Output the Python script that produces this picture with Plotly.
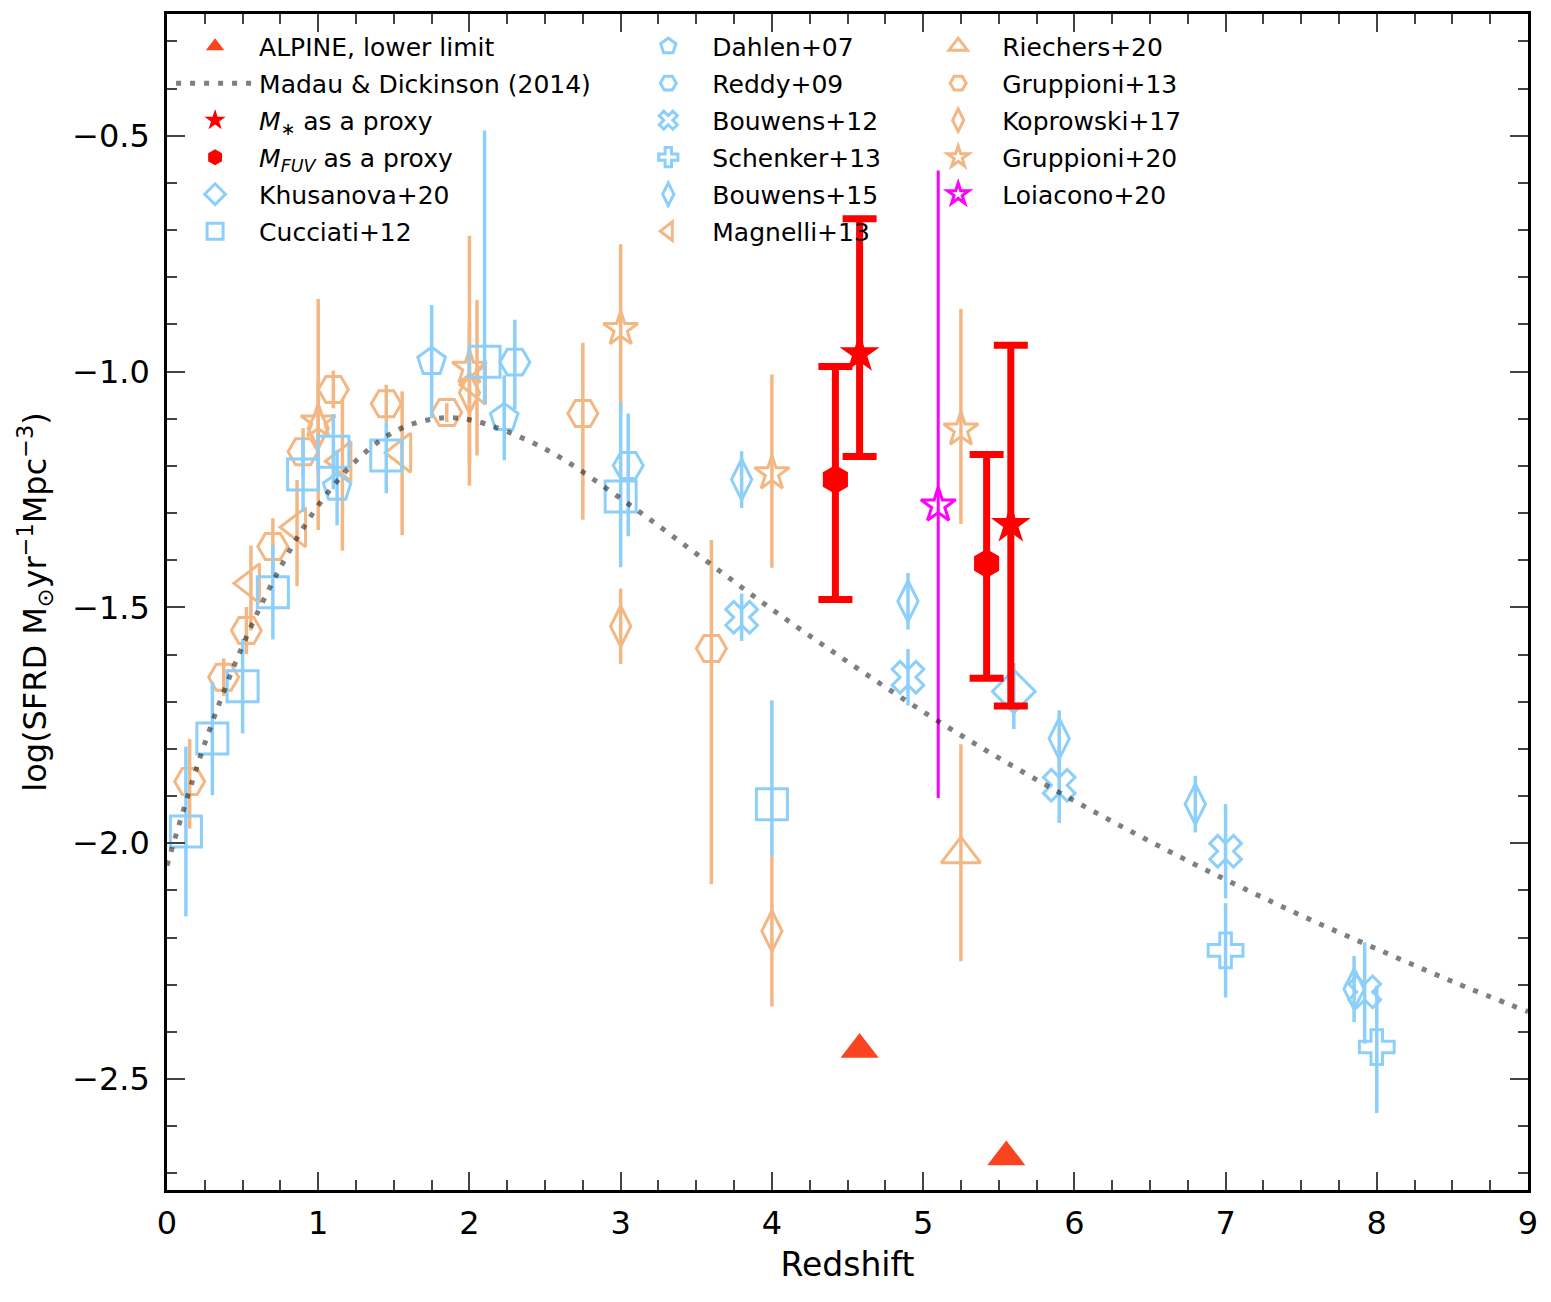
import plotly.graph_objects as go

# colours
BLUE = "#8CCFFA"
ORANGE = "#F3B784"
RED = "#FF0000"
MAGENTA = "#FF00FF"
ALPINE_COL = "#FA4420"

# --- ALPINE, this work ---
alpine_z = [4.58, 5.55]
alpine_y = [-2.437, -2.665]

mstar_z = [4.58, 5.58]
mstar_y = [-0.962, -1.324]
mstar_up = [0.286, 0.38]
mstar_dn = [0.218, 0.385]

mfuv_z = [4.42, 5.42]
mfuv_y = [-1.229, -1.407]
mfuv_up = [0.24, 0.231]
mfuv_dn = [0.254, 0.243]

# --- UV / optical literature (blue) ---
khus_z = [5.6]
khus_y = [-1.678]
khus_up = [0.06]
khus_dn = [0.08]

cucc_z = [0.125, 0.30, 0.50, 0.70, 0.90, 1.10, 1.45, 2.10, 3.00, 4.00]
cucc_y = [-1.975, -1.778, -1.667, -1.468, -1.218, -1.17, -1.178, -0.979, -1.265, -1.917]
cucc_up = [0.18, 0.12, 0.10, 0.10, 0.08, 0.08, 0.07, 0.49, 0.20, 0.22]
cucc_dn = [0.18, 0.12, 0.10, 0.10, 0.08, 0.08, 0.08, 0.09, 0.15, 0.11]

dahl_z = [1.125, 1.75, 2.23]
dahl_y = [-1.246, -0.979, -1.098]
dahl_up = [0.08, 0.12, 0.09]
dahl_dn = [0.08, 0.12, 0.09]

redd_z = [2.3, 3.05]
redd_y = [-0.98, -1.199]
redd_up = [0.09, 0.11]
redd_dn = [0.10, 0.15]

bouw12_z = [3.8, 4.9, 5.9, 7.0, 7.92]
bouw12_y = [-1.521, -1.648, -1.877, -2.017, -2.315]
bouw12_up = [0.05, 0.06, 0.08, 0.10, 0.105]
bouw12_dn = [0.05, 0.06, 0.08, 0.10, 0.11]

schen_z = [7.0, 8.0]
schen_y = [-2.227, -2.432]
schen_up = [0.10, 0.13]
schen_dn = [0.10, 0.14]

bouw15_z = [3.8, 4.9, 5.9, 6.8, 7.85]
bouw15_y = [-1.229, -1.487, -1.778, -1.917, -2.309]
bouw15_up = [0.06, 0.06, 0.06, 0.06, 0.07]
bouw15_dn = [0.06, 0.06, 0.06, 0.06, 0.07]

# --- IR / radio literature (orange) ---
magn_z = [0.555, 0.86, 1.16, 1.555, 2.05]
magn_y = [-1.449, -1.33, -1.19, -1.172, -1.028]
magn_up = [0.08, 0.10, 0.13, 0.13, 0.18]
magn_dn = [0.10, 0.125, 0.19, 0.175, 0.15]

riech_z = [5.25]
riech_y = [-2.023]
riech_up = [0.233]
riech_dn = [0.227]

grup13_z = [0.15, 0.375, 0.525, 0.70, 0.90, 1.10, 1.45, 1.85, 2.75, 3.60]
grup13_y = [-1.869, -1.648, -1.549, -1.371, -1.17, -1.038, -1.068, -1.087, -1.089, -1.587]
grup13_up = [0.09, 0.04, 0.05, 0.06, 0.05, 0.04, 0.04, 0.02, 0.15, 0.23]
grup13_dn = [0.10, 0.04, 0.05, 0.06, 0.05, 0.04, 0.04, 0.02, 0.225, 0.50]

kopr_z = [1.0, 2.0, 3.0, 4.0]
kopr_y = [-1.12, -1.045, -1.54, -2.186]
kopr_up = [0.10, 0.15, 0.08, 0.16]
kopr_dn = [0.10, 0.15, 0.08, 0.16]

grup20_z = [1.0, 2.0, 3.0, 4.0, 5.25]
grup20_y = [-1.106, -0.992, -0.91, -1.216, -1.123]
grup20_up = [0.26, 0.28, 0.18, 0.21, 0.256]
grup20_dn = [0.23, 0.25, 0.18, 0.20, 0.20]

loia_z = [5.1]
loia_y = [-1.284]
loia_up = [0.71]
loia_dn = [0.62]

# Madau & Dickinson (2014) curve
md_z = [0, 0.25, 0.5, 0.75, 1.0, 1.25, 1.5, 1.75, 2.0, 2.5, 3.0, 3.5, 4.0,
        4.5, 5.0, 5.5, 6.0, 6.5, 7.0, 7.5, 8.0, 8.5, 9.0]
md_y = [-2.047, -1.788, -1.581, -1.415, -1.284, -1.189, -1.128, -1.101, -1.102,
        -1.164, -1.269, -1.386, -1.504, -1.615, -1.721, -1.819, -1.910, -1.996,
        -2.077, -2.153, -2.224, -2.293, -2.357]

xtick_vals = [0, 1, 2, 3, 4, 5, 6, 7, 8, 9]
ytick_vals = [-2.5, -2.0, -1.5, -1.0, -0.5]
ytick_text = ["\u22122.5", "\u22122.0", "\u22121.5", "\u22121.0", "\u22120.5"]

FONT = "DejaVu Sans"

fig = go.Figure()


def add_points(z, y, up, dn, name, symbol, color, size, legend, rank,
               thick=3.5, cap=0, filled=False, lw=3):
    marker = dict(symbol=symbol, size=size, color=color,
                  line=dict(color=color, width=0 if filled else lw))
    err = None
    if up is not None:
        err = dict(type="data", array=up, arrayminus=dn, visible=True,
                   color=color, thickness=thick, width=cap)
    fig.add_trace(go.Scatter(
        x=z, y=y, mode="markers", name=name, marker=marker,
        error_y=err, legend=legend, legendrank=rank, legendgroup=name,
        cliponaxis=False
    ))


# orange (IR/radio) first, then blue, then ALPINE points on top
add_points(grup13_z, grup13_y, grup13_up, grup13_dn, "Gruppioni+13",
           "hexagon2-open", ORANGE, 30, "legend3", 2)
add_points(magn_z, magn_y, magn_up, magn_dn, "Magnelli+13",
           "triangle-left-open", ORANGE, 34, "legend2", 6)
add_points(kopr_z, kopr_y, kopr_up, kopr_dn, "Koprowski+17",
           "diamond-tall-open", ORANGE, 29, "legend3", 3)
add_points(grup20_z, grup20_y, grup20_up, grup20_dn, "Gruppioni+20",
           "star-open", ORANGE, 26, "legend3", 4)
add_points(riech_z, riech_y, riech_up, riech_dn, "Riechers+20",
           "triangle-up-open", ORANGE, 34, "legend3", 1)

add_points(cucc_z, cucc_y, cucc_up, cucc_dn, "Cucciati+12",
           "square-open", BLUE, 31, "legend", 6)
add_points(dahl_z, dahl_y, dahl_up, dahl_dn, "Dahlen+07",
           "pentagon-open", BLUE, 29, "legend2", 1)
add_points(redd_z, redd_y, redd_up, redd_dn, "Reddy+09",
           "hexagon2-open", BLUE, 30, "legend2", 2)
add_points(bouw12_z, bouw12_y, bouw12_up, bouw12_dn, "Bouwens+12",
           "x-open", BLUE, 28, "legend2", 3)
add_points(schen_z, schen_y, schen_up, schen_dn, "Schenker+13",
           "cross-open", BLUE, 29, "legend2", 4)
add_points(bouw15_z, bouw15_y, bouw15_up, bouw15_dn, "Bouwens+15",
           "diamond-tall-open", BLUE, 29, "legend2", 5)
add_points(khus_z, khus_y, khus_up, khus_dn, "Khusanova+20",
           "diamond-open", BLUE, 33, "legend", 5)

add_points(loia_z, loia_y, loia_up, loia_dn, "Loiacono+20",
           "star-open", MAGENTA, 26, "legend3", 5, thick=3)

add_points(mfuv_z, mfuv_y, mfuv_up, mfuv_dn, "<i>M</i><sub><i>FUV</i></sub> as a proxy",
           "hexagon", RED, 29, "legend", 4, thick=7, cap=17, filled=True)
add_points(mstar_z, mstar_y, mstar_up, mstar_dn, "<i>M</i><sub>\u2217</sub> as a proxy",
           "star", RED, 30, "legend", 3, thick=7, cap=17, filled=True)
add_points(alpine_z, alpine_y, None, None, "ALPINE, lower limit",
           "triangle-up", ALPINE_COL, 33, "legend", 1, filled=True)

fig.add_trace(go.Scatter(
    x=md_z, y=md_y, mode="lines", name="Madau & Dickinson (2014)",
    line=dict(color="rgba(0,0,0,0.5)", width=5, dash="5px,9px", shape="spline"),
    legend="legend", legendrank=2, legendgroup="md14"
))

legend_common = dict(
    font=dict(family=FONT, size=25, color="black"),
    bgcolor="rgba(0,0,0,0)", borderwidth=0,
    xanchor="left", yanchor="top", y=0.992,
    traceorder="grouped", tracegroupgap=1.5, itemsizing="trace", itemwidth=78,
)

fig.update_layout(
    width=1551, height=1302,
    margin=dict(l=167, r=23, t=14, b=112),
    plot_bgcolor="white", paper_bgcolor="white",
    font=dict(family=FONT, size=32, color="black"),
    legend=dict(x=0.003, **legend_common),
    legend2=dict(x=0.336, **legend_common),
    legend3=dict(x=0.549, **legend_common),
    xaxis=dict(
        range=[0, 9], tickvals=xtick_vals, ticks="inside", ticklen=18, tickwidth=2,
        minor=dict(ticks="inside", dtick=0.25, ticklen=10, tickwidth=1.5),
        showline=True, linewidth=2.5, linecolor="black", mirror="allticks",
        showgrid=False, zeroline=False, ticklabelstandoff=3,
        title=dict(text="Redshift", font=dict(size=33), standoff=12),
        tickfont=dict(size=32),
    ),
    yaxis=dict(
        range=[-2.735, -0.242], tickvals=ytick_vals, ticktext=ytick_text,
        ticks="inside", ticklen=18, tickwidth=2,
        minor=dict(ticks="inside", dtick=0.1, ticklen=10, tickwidth=1.5),
        showline=True, linewidth=2.5, linecolor="black", mirror="allticks",
        showgrid=False, zeroline=False, ticklabelstandoff=8,
        title=dict(text="log(SFRD M<sub>\u2299</sub>yr<sup>\u22121</sup>Mpc<sup>\u22123</sup>)",
                   font=dict(size=32), standoff=16),
        tickfont=dict(size=32),
    ),
    showlegend=True,
)

fig.write_html("out.html", config={"displayModeBar": False},
               post_script="document.body.style.margin='0';")
